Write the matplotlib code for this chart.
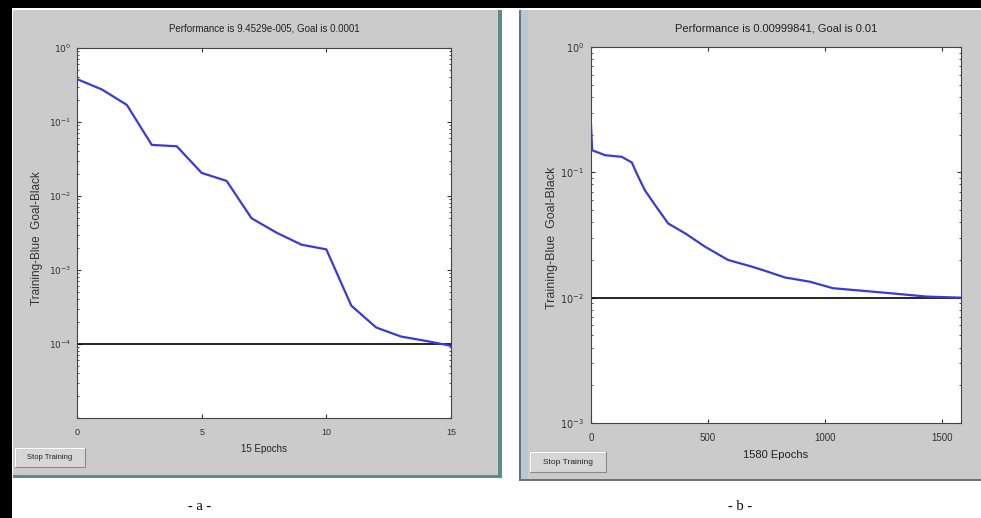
import math
import matplotlib
matplotlib.use("Agg")
import matplotlib.pyplot as plt
from matplotlib.patches import Rectangle
from matplotlib.ticker import LogLocator, NullFormatter

# ---- data ----
epochs_a = [0, 1, 2, 3, 4, 5, 6, 7, 8, 9, 10, 11, 12, 13, 14, 15]
perf_a = [0.38, 0.275, 0.17, 0.049, 0.047, 0.0205, 0.016, 0.005, 0.0032,
          0.0022, 0.0019, 0.00033, 0.000167, 0.000126, 0.00011, 9.4529e-5]
goal_a = 1e-4

epochs_b = [0, 5, 60, 131, 174, 202, 230, 273, 330, 401, 487, 585, 686,
            721, 828, 935, 1033, 1148, 1290, 1434, 1580]
perf_b = [0.24, 0.15, 0.137, 0.133, 0.12, 0.092, 0.072, 0.055, 0.039, 0.0327,
          0.0255, 0.020, 0.0177, 0.0169, 0.0145, 0.0134, 0.0119, 0.0114,
          0.0108, 0.0102, 0.00999841]
goal_b = 0.01

xticks_a = [0, 5, 10, 15]
xticks_b = [0, 500, 1000, 1500]
yticks_a = [1e-5, 1e-4, 1e-3, 1e-2, 1e-1, 1e0]
yticks_b = [1e-3, 1e-2, 1e-1, 1e0]

title_a = "Performance is 9.4529e-005, Goal is 0.0001"
title_b = "Performance is 0.00999841, Goal is 0.01"
xlabel_a = "15 Epochs"
xlabel_b = "1580 Epochs"
ylabel = "Training-Blue  Goal-Black"

W, H = 981, 518
fig = plt.figure(figsize=(W / 100, H / 100), dpi=100)
fig.patch.set_facecolor("white")

def px(x0, y0, x1, y1):
    return (x0 / W, 1 - y1 / H, (x1 - x0) / W, (y1 - y0) / H)

def rect(x0, y0, x1, y1, fc, ec="none", lw=0, z=-5):
    l, b, w, h = px(x0, y0, x1, y1)
    fig.patches.append(Rectangle((l, b), w, h, transform=fig.transFigure,
                                 facecolor=fc, edgecolor=ec, linewidth=lw, zorder=z))

GRAY = "#cbcbcb"
# black frame pieces
rect(0, 0, W, 8, "black")
rect(0, 0, 12, H, "black")
# left window
rect(13, 10, 500, 477, GRAY)
rect(498, 10, 502, 478, "#5e8a8e")
rect(13, 475, 502, 478, "#5e8a8e")
# right window
rect(520, 10, W, 480, GRAY)
rect(519, 10, 521, 481, "#6f7078")
rect(521, 10, 528, 480, "#b9c6d6")
rect(519, 479, W, 481, "#6f7078")

# buttons
for (x0, y0, x1, y1, fs) in [(15, 448, 85, 467, 5.5), (530, 452, 606, 472, 6.0)]:
    rect(x0, y0, x1, y1, "#d6d6d6", ec="#8a8a8a", lw=0.8, z=-4)
    rect(x0, y0, x1, y0 + 1.2, "white", z=-3)
    rect(x0, y0, x0 + 1.2, y1, "white", z=-3)
    fig.text((x0 + x1) / 2 / W, 1 - (y0 + y1) / 2 / H, "Stop Training",
             ha="center", va="center", fontsize=fs, family="Liberation Sans",
             color="#222222", zorder=3)

def setup(ax, fs, ypad):
    ax.set_zorder(5)
    ax.set_facecolor("white")
    for s in ax.spines.values():
        s.set_color("#444444")
        s.set_linewidth(0.8)
    ax.tick_params(which="both", direction="in", top=True, right=True,
                   labelsize=fs, colors="#333333")
    ax.tick_params(axis="x", pad=7)
    ax.tick_params(axis="y", pad=ypad)
    ax.tick_params(which="major", length=3)
    ax.tick_params(which="minor", length=1.5)
    ax.yaxis.set_minor_locator(LogLocator(base=10, subs=range(2, 10), numticks=20))
    ax.yaxis.set_minor_formatter(NullFormatter())
    for lab in ax.get_xticklabels() + ax.get_yticklabels():
        lab.set_family("Liberation Sans")

BLUE = "#3a3ad8"

def dec_labels(vals):
    return [r"$10^{%d}$" % int(round(math.log10(v))) for v in vals]

# ---- panel a ----
ax1 = fig.add_axes(px(77, 48, 451, 418))
ax1.set_yscale("log")
ax1.plot(epochs_a, perf_a, color=BLUE, lw=1.6, zorder=3)
ax1.axhline(goal_a, color="black", lw=1.2, zorder=2)
ax1.set_xlim(0, 15)
ax1.set_ylim(1e-5, 1)
ax1.set_xticks(xticks_a)
ax1.set_yticks(yticks_a)
ax1.set_yticklabels(dec_labels(yticks_a))
setup(ax1, 6.5, 4)
ax1.get_yticklabels()[0].set_visible(False)
ax1.set_title(title_a, fontsize=7, family="Liberation Sans", color="#222222", pad=12)
ax1.set_xlabel(xlabel_a, fontsize=7, family="Liberation Sans", color="#222222", labelpad=5)
ax1.set_ylabel(ylabel, fontsize=8.5, family="Liberation Sans", color="#333333")
ax1.yaxis.set_label_coords(-0.09, 0.486)

# ---- panel b ----
ax2 = fig.add_axes(px(591, 47, 961, 423))
ax2.set_yscale("log")
ax2.plot(epochs_b, perf_b, color=BLUE, lw=1.6, zorder=3)
ax2.axhline(goal_b, color="black", lw=1.2, zorder=2)
ax2.set_xlim(0, 1580)
ax2.set_ylim(1e-3, 1)
ax2.set_xticks(xticks_b)
ax2.set_yticks(yticks_b)
ax2.set_yticklabels(dec_labels(yticks_b))
setup(ax2, 7, 5)
ax2.set_title(title_b, fontsize=8, family="Liberation Sans", color="#222222", pad=11)
ax2.set_xlabel(xlabel_b, fontsize=8, family="Liberation Sans", color="#222222", labelpad=5)
ax2.set_ylabel(ylabel, fontsize=9, family="Liberation Sans", color="#333333")
ax2.yaxis.set_label_coords(-0.088, 0.493)

fig.text(200 / W, 1 - 507 / H, "- a -", ha="center", va="center",
         fontsize=10.5, family="Liberation Serif")
fig.text(740 / W, 1 - 507 / H, "- b -", ha="center", va="center",
         fontsize=10.5, family="Liberation Serif")

fig.savefig("out.png", dpi=100)
